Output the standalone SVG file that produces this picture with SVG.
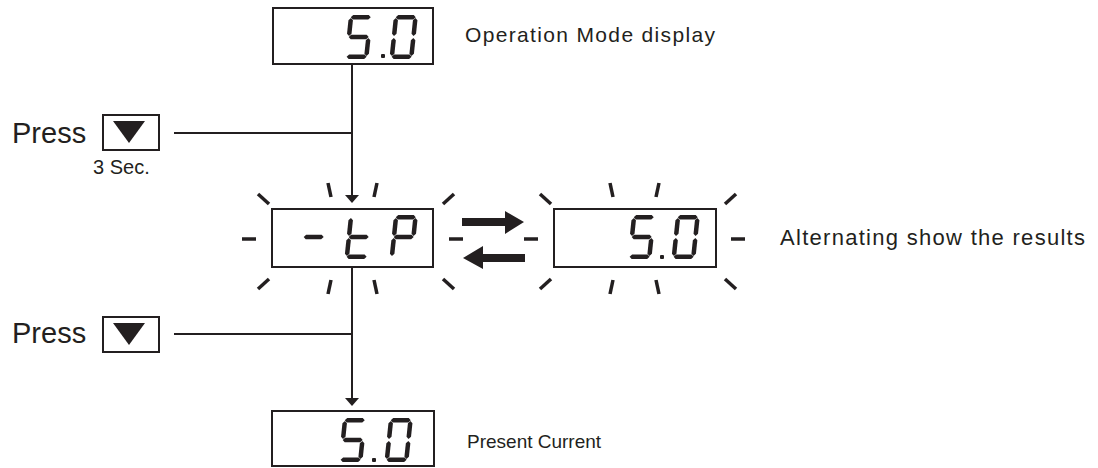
<svg xmlns="http://www.w3.org/2000/svg" xmlns:xlink="http://www.w3.org/1999/xlink" width="1098" height="468" viewBox="0 0 1098 468">
  <style>
    .box { fill: #ffffff; stroke: #231f20; stroke-width: 2; }
    .seg { fill: #231f20; }
    .wire { fill: none; stroke: #231f20; stroke-width: 2; }
    .tick { fill: none; stroke: #231f20; stroke-width: 3.5; stroke-linecap: butt; }
    .label { font-family: "Liberation Sans", Arial, sans-serif; fill: #231f20; }
    .note { font-family: "Liberation Sans", Arial, sans-serif; fill: #231f20; }
    .btn { fill: #ffffff; stroke: #231f20; stroke-width: 2; }
    .tri { fill: #231f20; }
    .head { fill: #231f20; }
  </style>
  <defs>
    <!-- seven-segment pieces, cell 24 x 44 -->
    <polygon id="sa" points="2,2.25 4.25,0 19.75,0 22,2.25 19.75,4.5 4.25,4.5"/>
    <polygon id="sg" points="2,22 4.25,19.75 19.75,19.75 22,22 19.75,24.25 4.25,24.25"/>
    <polygon id="sd" points="2,41.75 4.25,39.5 19.75,39.5 22,41.75 19.75,44 4.25,44"/>
    <polygon id="sf" points="2.25,3 4.5,5.25 4.5,18.75 2.25,21 0,18.75 0,5.25"/>
    <polygon id="se" points="2.25,23 4.5,25.25 4.5,38.75 2.25,41 0,38.75 0,25.25"/>
    <polygon id="sb" points="21.75,3 24,5.25 24,18.75 21.75,21 19.5,18.75 19.5,5.25"/>
    <polygon id="sc" points="21.75,23 24,25.25 24,38.75 21.75,41 19.5,38.75 19.5,25.25"/>
    <g id="d5" class="seg"><use xlink:href="#sa"/><use xlink:href="#sf"/><use xlink:href="#sg"/><use xlink:href="#sc"/><use xlink:href="#sd"/></g>
    <g id="d0" class="seg"><use xlink:href="#sa"/><use xlink:href="#sb"/><use xlink:href="#sc"/><use xlink:href="#sd"/><use xlink:href="#se"/><use xlink:href="#sf"/></g>
    <g id="dP" class="seg"><use xlink:href="#sa"/><use xlink:href="#sb"/><use xlink:href="#sf"/><use xlink:href="#sg"/><use xlink:href="#se"/></g>
    <g id="dt" class="seg"><use xlink:href="#sf"/><use xlink:href="#se"/><use xlink:href="#sg"/><use xlink:href="#sd"/></g>
    <g id="dminus" class="seg"><use xlink:href="#sg"/></g>
    <!-- flashing rays around a display window -->
    <g id="rays" class="tick">
      <line x1="242" y1="239" x2="256" y2="239"/>
      <line x1="449" y1="239" x2="463" y2="239"/>
      <line x1="328" y1="183" x2="331" y2="197"/>
      <line x1="377" y1="183" x2="374" y2="197"/>
      <line x1="331" y1="280" x2="328" y2="294"/>
      <line x1="374" y1="280" x2="377" y2="294"/>
      <line x1="258" y1="194" x2="269" y2="204"/>
      <line x1="454" y1="194" x2="443" y2="204"/>
      <line x1="258" y1="289" x2="269" y2="279"/>
      <line x1="454" y1="289" x2="443" y2="279"/>
    </g>
    <g id="button">
      <rect class="btn" x="0" y="0" width="56" height="35"/>
      <polygon class="tri" points="10,6 42,6 26,28"/>
    </g>
  </defs>

  <!-- connectors -->
  <g id="connectors">
    <line class="wire" x1="352" y1="64" x2="352" y2="196"/>
    <polygon class="head" points="345,195 359,195 352,203"/>
    <line class="wire" x1="174" y1="133" x2="352" y2="133"/>
    <line class="wire" x1="352" y1="267" x2="352" y2="399"/>
    <polygon class="head" points="345,398 359,398 352,406"/>
    <line class="wire" x1="174" y1="334" x2="352" y2="334"/>
    <!-- alternation arrows -->
    <polygon class="head" points="462,218 505,218 505,211 524,222 505,234 505,226 462,226"/>
    <polygon class="head" points="525,254 483,254 483,246 463,258 483,269 483,262 525,262"/>
  </g>

  <!-- operation mode display -->
  <g id="display-top">
    <rect class="box" x="273" y="8" width="160" height="56"/>
    <use xlink:href="#d5" transform="translate(349,15) skewX(-6)"/>
    <rect class="seg" x="381" y="54" width="4" height="4" rx="1"/>
    <use xlink:href="#d0" transform="translate(394,15) skewX(-6)"/>
  </g>
  <text class="label" x="465" y="42" font-size="21" textLength="250" lengthAdjust="spacing">Operation Mode display</text>

  <!-- press button, 3 sec -->
  <g id="press-1">
    <text class="label" x="12" y="143" font-size="29">Press</text>
    <use xlink:href="#button" transform="translate(103,115)"/>
    <text class="note" x="93" y="174" font-size="20">3 Sec.</text>
  </g>

  <!-- flashing "-tP" -->
  <g id="display-tp">
    <use xlink:href="#rays"/>
    <rect class="box" x="272" y="209" width="161" height="58"/>
    <use xlink:href="#dminus" transform="translate(304,215) skewX(-6)"/>
    <use xlink:href="#dt" transform="translate(349,215) skewX(-6)"/>
    <use xlink:href="#dP" transform="translate(394,215) skewX(-6)"/>
  </g>

  <!-- flashing value -->
  <g id="display-value">
    <use xlink:href="#rays" transform="translate(282,0)"/>
    <rect class="box" x="554" y="209" width="162" height="58"/>
    <use xlink:href="#d5" transform="translate(632,215) skewX(-6)"/>
    <rect class="seg" x="660" y="255" width="4" height="4" rx="1"/>
    <use xlink:href="#d0" transform="translate(676,215) skewX(-6)"/>
  </g>
  <text class="label" x="780" y="245" font-size="22" textLength="305" lengthAdjust="spacing">Alternating show the results</text>

  <!-- press button -->
  <g id="press-2">
    <text class="label" x="12" y="343" font-size="29">Press</text>
    <use xlink:href="#button" transform="translate(103,317)"/>
  </g>

  <!-- present current display -->
  <g id="display-bottom">
    <rect class="box" x="272" y="411" width="162" height="55"/>
    <use xlink:href="#d5" transform="translate(343,418) skewX(-6)"/>
    <rect class="seg" x="372" y="458" width="4" height="4" rx="1"/>
    <use xlink:href="#d0" transform="translate(389,418) skewX(-6)"/>
  </g>
  <text class="label" x="467" y="448" font-size="19">Present Current</text>
</svg>
